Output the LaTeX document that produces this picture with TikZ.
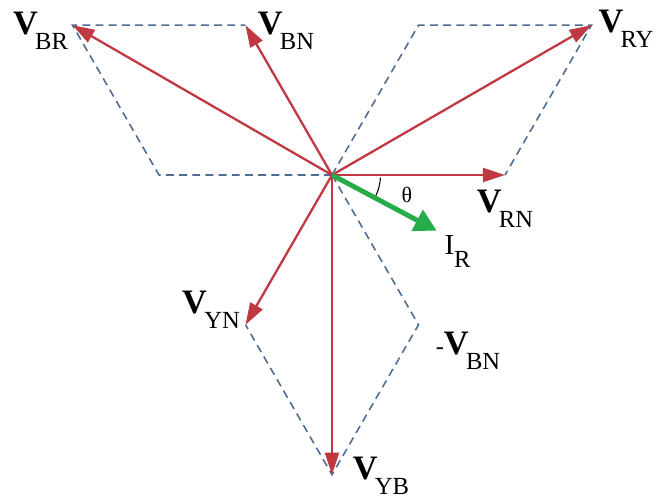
\documentclass[tikz,border=0pt]{standalone}
\usepackage{fontspec}
\setmainfont{Liberation Serif}
\usepackage{tikz}
\usetikzlibrary{arrows.meta,calc,positioning}

\definecolor{phasorred}{RGB}{192,56,66}
\definecolor{currentgreen}{RGB}{38,172,72}
\definecolor{guideblue}{RGB}{78,108,148}

\newcommand{\phlab}[2]{{\fontsize{19.5}{19.5}\selectfont\bfseries #1}\kern-1.5pt
  \raisebox{-8.5pt}{\fontsize{14}{14}\selectfont #2}}

\begin{document}
\begin{tikzpicture}[
    phasor/.style={-{Triangle[length=4.4mm, width=2.8mm]}, line width=1.3pt, phasorred},
    current/.style={-{Triangle[length=4.4mm, width=4.6mm]}, line width=2.8pt, currentgreen},
    guide/.style={guideblue, line width=0.9pt, dash pattern=on 4.5pt off 3pt},
    lbl/.style={inner sep=0pt, anchor=center}
]
\useasboundingbox (-6.64,-6.48) rectangle (6.54,3.5);

% phase and line voltages
\coordinate (O) at (0,0);
\coordinate (RN) at (0:3.46);
\coordinate (BN) at (120:3.46);
\coordinate (YN) at (240:3.46);
\coordinate (mRN) at (180:3.46);
\coordinate (mYN) at (60:3.46);
\coordinate (mBN) at (300:3.46);
\coordinate (RY) at ($(RN)-(YN)$);
\coordinate (BR) at ($(BN)-(RN)$);
\coordinate (YB) at ($(YN)-(BN)$);
\coordinate (IR) at (-28:2.37);

% parallelogram construction
\draw[guide] (O) -- (mRN) -- (BR) -- (BN);
\draw[guide] (O) -- (mYN) -- (RY) -- (RN);
\draw[guide] (O) -- (mBN) -- (YB) -- (YN);

\foreach \tip in {RN,BN,YN,RY,BR,YB}
    \draw[phasor] (O) -- (\tip);
\draw[current] (O) -- (IR);
\draw[black, line width=0.6pt] (-3:0.97) arc[start angle=-3, end angle=-25, radius=0.97];

\node[lbl] (lbr) at ([xshift=-0.64cm, yshift=-0.12cm]BR) {\phlab{V}{BR}};
\node[lbl] (lbn) at ([xshift=0.81cm, yshift=-0.12cm]BN) {\phlab{V}{BN}};
\node[lbl] (lry) at ([xshift=0.69cm, yshift=-0.08cm]RY) {\phlab{V}{RY}};
\node[lbl] (lrn) at ([yshift=-0.68cm]RN) {\phlab{V}{RN}};
\node[lbl] (lyn) at ([xshift=-0.69cm, yshift=0.30cm]YN) {\phlab{V}{YN}};
\node[lbl] (lmbn) at ([xshift=0.99cm, yshift=-0.52cm]mBN)
    {{\fontsize{14}{14}\selectfont -}\phlab{V}{BN}};
\node[lbl] (lyb) at ([xshift=0.98cm, yshift=-0.02cm]YB) {\phlab{V}{YB}};
\node[lbl] (lir) at ([xshift=0.42cm, yshift=-0.42cm]IR)
    {{\fontsize{16.5}{16.5}\selectfont I}\raisebox{-7.5pt}{\fontsize{14}{14}\selectfont R}};
\node[lbl, font=\fontsize{12.5}{12.5}\selectfont] (theta) at (1.50,-0.40) {θ};
\end{tikzpicture}
\end{document}
